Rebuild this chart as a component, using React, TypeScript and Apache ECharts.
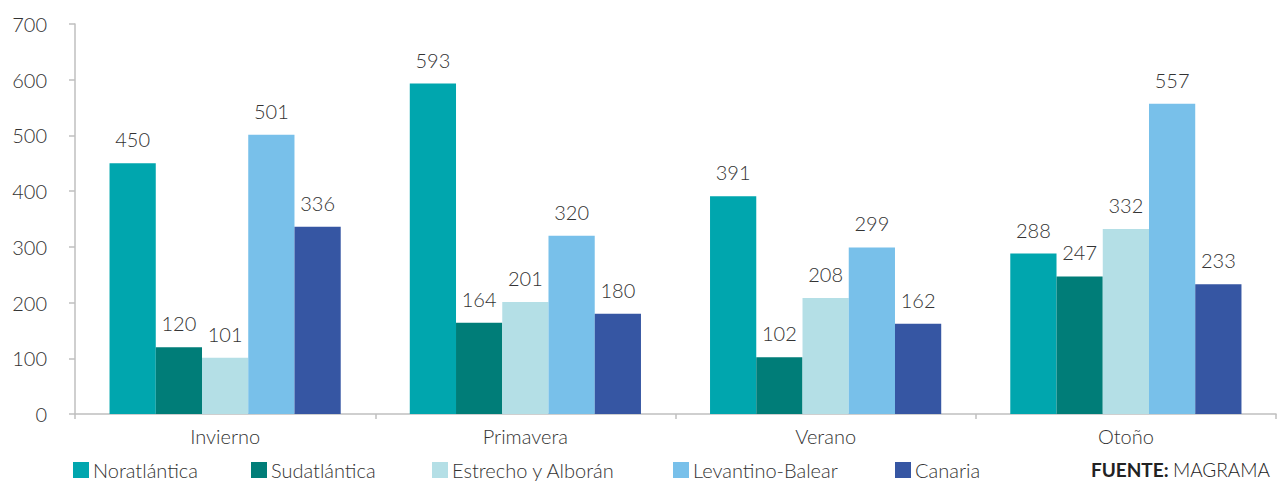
import React, { useEffect, useRef } from "react";
import * as echarts from "echarts";

const categories = ["Invierno", "Primavera", "Verano", "Otoño"];
const seriesNames = ["Noratlántica", "Sudatlántica", "Estrecho y Alborán", "Levantino-Balear", "Canaria"];
const noratlantica = [450, 593, 391, 288];
const sudatlantica = [120, 164, 102, 247];
const estrecho = [101, 201, 208, 332];
const levantino = [501, 320, 299, 557];
const canaria = [336, 180, 162, 233];
const colors = ["#00A6AE", "#007D78", "#B4DFE6", "#78C0EA", "#3656A3"];
const legendLefts = [73, 251, 432, 673, 895];

const FONT = "Lato";
const TEXT = "#333333";

export default function App() {
  const ref = useRef<HTMLDivElement>(null);
  useEffect(() => {
    if (!ref.current) return;
    const chart = echarts.init(ref.current, undefined, { renderer: "svg" });
    const values = [noratlantica, sudatlantica, estrecho, levantino, canaria];
    chart.setOption({
      animation: false,
      textStyle: { fontFamily: FONT, fontWeight: 300, color: TEXT },
      grid: { left: 75, right: 1, top: 24, bottom: 67, containLabel: false },
      title: {
        text: "{b|FUENTE:} {r|MAGRAMA}",
        right: 7,
        top: 460,
        padding: 0,
        textStyle: {
          rich: {
            b: { fontFamily: FONT, fontWeight: 700, fontSize: 19, color: "#222" },
            r: { fontFamily: FONT, fontWeight: 300, fontSize: 19, color: "#222" },
          },
        },
      },
      legend: seriesNames.map((n, i) => ({
        data: [n],
        left: legendLefts[i],
        top: 460,
        padding: 0,
        itemWidth: 16,
        itemHeight: 16,
        itemGap: 0,
        icon: "rect",
        textStyle: { fontFamily: FONT, fontWeight: 300, fontSize: 20, color: TEXT, padding: [0, 0, 0, -1] },
      })),
      xAxis: {
        type: "category",
        data: categories,
        axisLine: { lineStyle: { color: "#BFBFBF", width: 1.5 } },
        axisTick: { show: true, length: 5, lineStyle: { color: "#BFBFBF", width: 1.5 } },
        axisLabel: { fontFamily: FONT, fontWeight: 300, fontSize: 20, color: TEXT, margin: 12 },
      },
      yAxis: {
        type: "value",
        min: 0,
        max: 700,
        interval: 100,
        splitLine: { show: false },
        axisLine: { show: true, lineStyle: { color: "#BFBFBF", width: 1.5 } },
        axisTick: { show: true, length: 6, lineStyle: { color: "#BFBFBF", width: 1.5 } },
        axisLabel: { fontFamily: FONT, fontWeight: 300, fontSize: 20, color: TEXT, margin: 28 },
      },
      series: seriesNames.map((n, i) => ({
        name: n,
        type: "bar",
        data: values[i],
        barGap: "0%",
        barCategoryGap: "23%",
        itemStyle: { color: colors[i] },
        label: {
          show: true,
          position: "top",
          distance: 14,
          fontFamily: FONT,
          fontWeight: 300,
          fontSize: 20,
          color: TEXT,
        },
      })),
    });
    return () => chart.dispose();
  }, []);
  return <div ref={ref} style={{ position: "absolute", left: 0, top: 0, width: 1277, height: 481 }} />;
}
